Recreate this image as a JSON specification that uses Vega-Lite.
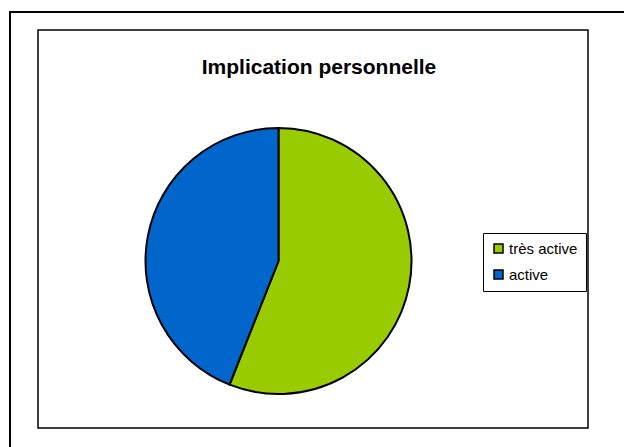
{
  "$schema": "https://vega.github.io/schema/vega-lite/v6.json",
  "width": 550,
  "height": 398,
  "autosize": {"type": "none"},
  "padding": {"left": 38, "top": 30, "right": 36, "bottom": 19},
  "background": "white",
  "view": {"stroke": "black", "strokeWidth": 1.5},
  "config": {
    "view": {"stroke": "black", "strokeWidth": 1.5},
    "font": "Liberation Sans"
  },
  "title": {
    "text": "Implication personnelle",
    "font": "Liberation Sans",
    "fontSize": 21,
    "fontWeight": "bold",
    "color": "black",
    "anchor": "middle",
    "frame": "group",
    "baseline": "alphabetic",
    "offset": -45,
    "dy": 39,
    "dx": 6
  },
  "layer": [
    {
      "data": {"values": [{"frame": 1}]},
      "mark": {
        "type": "rect",
        "x": -28,
        "y": -18,
        "x2": {"expr": "width + 80"},
        "y2": {"expr": "height + 80"},
        "fill": null,
        "stroke": "black",
        "strokeWidth": 2,
        "clip": false
      },
      "encoding": {}
    },
    {
      "data": {
        "values": [
          {"category": "très active", "value": 56},
          {"category": "active", "value": 44}
        ]
      },
      "mark": {
        "type": "arc",
        "outerRadius": 133,
        "xOffset": -34.5,
        "yOffset": 32,
        "stroke": "black",
        "strokeWidth": 2
      },
      "encoding": {
        "theta": {"field": "value", "type": "quantitative", "stack": true},
        "order": {"field": "value", "sort": "descending"},
        "color": {
          "field": "category",
          "type": "nominal",
          "scale": {"domain": ["très active", "active"], "range": ["#99cc00", "#0066cc"]},
          "legend": {
            "title": null,
            "orient": "none",
            "legendX": 445,
            "legendY": 203,
            "symbolType": "square",
            "symbolSize": 81,
            "symbolStrokeColor": "black",
            "symbolStrokeWidth": 1.5,
            "symbolOpacity": 1,
            "labelFontSize": 15,
            "labelFont": "Liberation Sans",
            "labelColor": "black",
            "labelOffset": 3,
            "rowPadding": 10,
            "padding": 8,
            "strokeColor": "black",
            "fillColor": "white"
          }
        }
      }
    }
  ]
}
